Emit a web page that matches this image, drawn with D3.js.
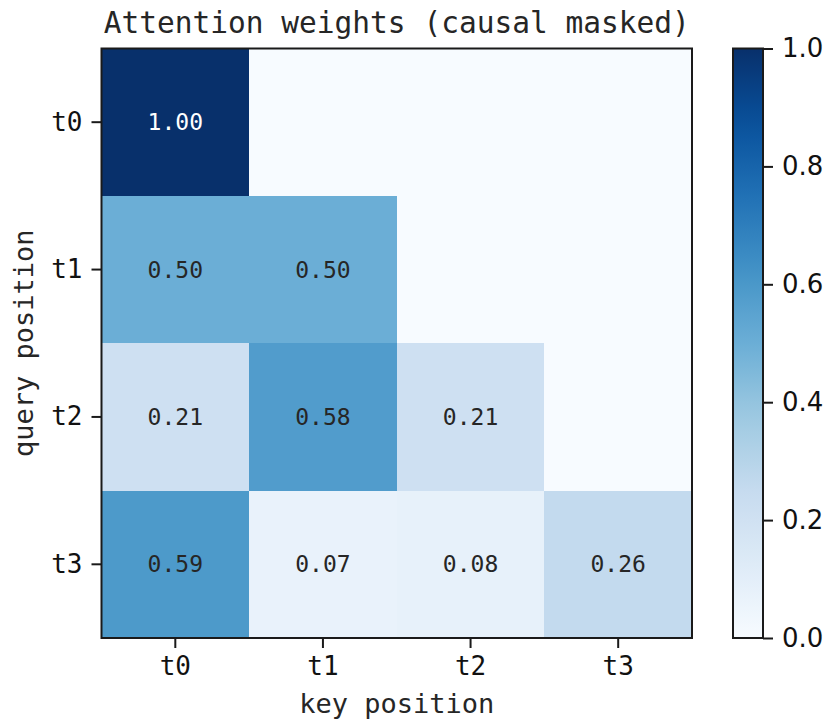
<!DOCTYPE html>
<html>
<head>
<meta charset="utf-8">
<script src="https://cdn.jsdelivr.net/npm/d3@7"></script>
<style>
  html, body { margin: 0; padding: 0; background: #fff; }
  svg { display: block; }
</style>
</head>
<body>
<svg id="chart" width="830" height="726"></svg>
<script>
// ---- data ----
const keys = ["t0", "t1", "t2", "t3"];
const queries = ["t0", "t1", "t2", "t3"];
const weights = [
  [1.00, 0.00, 0.00, 0.00],
  [0.50, 0.50, 0.00, 0.00],
  [0.21, 0.58, 0.21, 0.00],
  [0.59, 0.07, 0.08, 0.26]
];
const colorbarTicks = [0.0, 0.2, 0.4, 0.6, 0.8, 1.0];
const blues = ["#f7fbff", "#deebf7", "#c6dbef", "#9ecae1", "#6baed6", "#4292c6", "#2171b5", "#08519c", "#08306b"];
const titleText = "Attention weights (causal masked)";
const xLabel = "key position";
const yLabel = "query position";

// ---- layout ----
const svg = d3.select("#chart");
const mono = "'DejaVu Sans Mono', monospace";
const sans = "'DejaVu Sans', sans-serif";
const plot = { left: 101.5, top: 48.5, width: 590.5, height: 589.5 };
const cb = { left: 733, width: 30 };

const x = d3.scaleBand().domain(keys).range([plot.left, plot.left + plot.width]);
const y = d3.scaleBand().domain(queries).range([plot.top, plot.top + plot.height]);
const color = d3.scaleLinear()
  .domain(blues.map((_, i) => i / (blues.length - 1)))
  .range(blues)
  .interpolate(d3.interpolateRgb);

const cells = [];
weights.forEach((row, i) => row.forEach((v, j) => {
  cells.push({ q: queries[i], k: keys[j], v, masked: j > i });
}));

svg.append("g").selectAll("rect").data(cells).join("rect")
  .attr("x", d => x(d.k))
  .attr("y", d => y(d.q))
  .attr("width", x.bandwidth())
  .attr("height", y.bandwidth())
  .attr("fill", d => color(d.v))
  .attr("shape-rendering", "crispEdges");

svg.append("g").selectAll("text").data(cells.filter(d => !d.masked)).join("text")
  .attr("x", d => x(d.k) + x.bandwidth() / 2)
  .attr("y", d => y(d.q) + y.bandwidth() / 2)
  .attr("text-anchor", "middle")
  .attr("dominant-baseline", "central")
  .attr("font-family", mono)
  .attr("font-size", 23)
  .attr("fill", d => d.v > 0.6 ? "#ffffff" : "#262626")
  .text(d => d.v.toFixed(2));

// frame
svg.append("rect")
  .attr("x", plot.left).attr("y", plot.top)
  .attr("width", plot.width).attr("height", plot.height)
  .attr("fill", "none").attr("stroke", "#1a1a1a").attr("stroke-width", 2);

// axes
const xAxis = svg.append("g")
  .attr("transform", `translate(0,${plot.top + plot.height})`)
  .call(d3.axisBottom(x).tickSize(10).tickPadding(9));
const yAxis = svg.append("g")
  .attr("transform", `translate(${plot.left},0)`)
  .call(d3.axisLeft(y).tickSize(10).tickPadding(9));
[xAxis, yAxis].forEach(a => {
  a.select(".domain").remove();
  a.selectAll(".tick line").attr("stroke", "#1a1a1a").attr("stroke-width", 2);
  a.selectAll(".tick text").attr("font-family", mono).attr("font-size", 26).attr("fill", "#111");
});

// title & labels
svg.append("text")
  .attr("x", plot.left + plot.width / 2).attr("y", 33)
  .attr("text-anchor", "middle")
  .attr("font-family", mono).attr("font-size", 29.5).attr("fill", "#262626")
  .text(titleText);
svg.append("text")
  .attr("x", plot.left + plot.width / 2).attr("y", 713)
  .attr("text-anchor", "middle")
  .attr("font-family", mono).attr("font-size", 27).attr("fill", "#262626")
  .text(xLabel);
svg.append("text")
  .attr("transform", `translate(33,${plot.top + plot.height / 2}) rotate(-90)`)
  .attr("text-anchor", "middle")
  .attr("font-family", mono).attr("font-size", 27).attr("fill", "#262626")
  .text(yLabel);

// colorbar
const defs = svg.append("defs");
const grad = defs.append("linearGradient").attr("id", "cbgrad")
  .attr("x1", 0).attr("y1", 1).attr("x2", 0).attr("y2", 0);
d3.range(0, 1.0001, 0.05).forEach(t => {
  grad.append("stop").attr("offset", t).attr("stop-color", color(t));
});
const cbScale = d3.scaleLinear().domain([0, 1]).range([plot.top + plot.height, plot.top]);
svg.append("rect")
  .attr("x", cb.left).attr("y", plot.top)
  .attr("width", cb.width).attr("height", plot.height)
  .attr("fill", "url(#cbgrad)");
svg.append("rect")
  .attr("x", cb.left).attr("y", plot.top)
  .attr("width", cb.width).attr("height", plot.height)
  .attr("fill", "none").attr("stroke", "#1a1a1a").attr("stroke-width", 2);
const cbAxis = svg.append("g")
  .attr("transform", `translate(${cb.left + cb.width},0)`)
  .call(d3.axisRight(cbScale).tickValues(colorbarTicks).tickFormat(d3.format(".1f")).tickSize(10).tickPadding(9));
cbAxis.select(".domain").remove();
cbAxis.selectAll(".tick line").attr("stroke", "#1a1a1a").attr("stroke-width", 2);
cbAxis.selectAll(".tick text").attr("font-family", sans).attr("font-size", 26).attr("fill", "#111");
</script>
</body>
</html>
